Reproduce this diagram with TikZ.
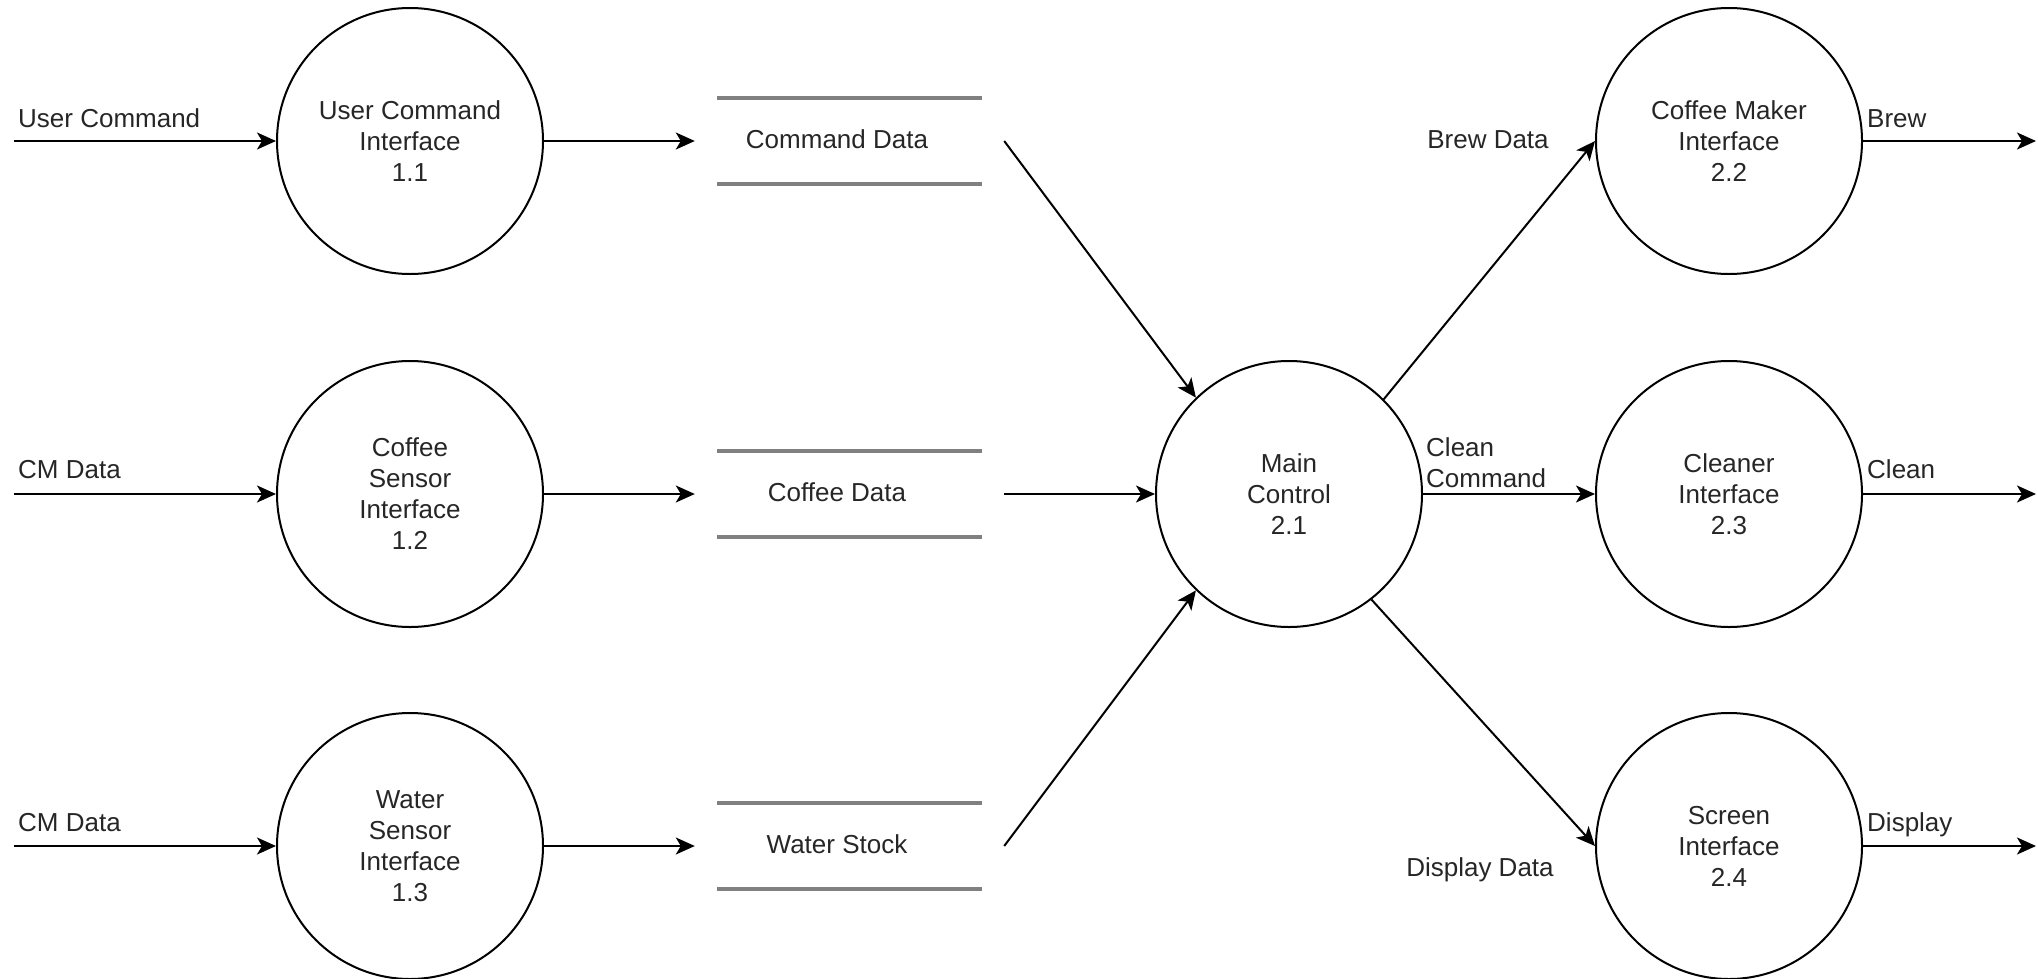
\documentclass[tikz,border=0pt]{standalone}
\usepackage{fontspec}
\setmainfont{Liberation Sans}
\usetikzlibrary{arrows.meta}
\definecolor{txt}{HTML}{262626}
\definecolor{storegray}{HTML}{808080}
\begin{document}
\begin{tikzpicture}[x=1bp,y=-1bp,
  fnt/.style={font=\fontsize{26bp}{31bp}\selectfont},
  proc/.style={circle, draw=black, line width=2bp, minimum size=266bp, inner sep=0pt, align=center, text=txt, fnt},
  lbl/.style={text=txt, fnt, inner sep=0pt, align=left},
  storebox/.style={minimum width=265bp, minimum height=86bp, inner sep=0pt},
  storeline/.style={draw=storegray, line width=3.5bp},
  flow/.style={line width=2bp, draw=black, -{Stealth[length=19bp,width=17bp,inset=5bp]}}]

\useasboundingbox (0,0) rectangle (2038,979);

% processes
\node[proc] (p11) at (410,141) {User Command\\Interface\\1.1};
\node[proc] (p12) at (410,494) {Coffee\\Sensor\\Interface\\1.2};
\node[proc] (p13) at (410,846) {Water\\Sensor\\Interface\\1.3};
\node[proc] (p21) at (1289,494) {Main\\Control\\2.1};
\node[proc] (p22) at (1729,141) {Coffee Maker\\Interface\\2.2};
\node[proc] (p23) at (1729,494) {Cleaner\\Interface\\2.3};
\node[proc] (p24) at (1729,846) {Screen\\Interface\\2.4};

% data stores
\node[storebox] (s1) at (849.5,141) {};
\node[storebox] (s2) at (849.5,494) {};
\node[storebox] (s3) at (849.5,846) {};
\foreach \s in {s1,s2,s3}{
  \draw[storeline] (\s.north west) -- (\s.north east);
  \draw[storeline] (\s.south west) -- (\s.south east);
}
\node[lbl, anchor=base] (t1) at (837,148) {Command Data};
\node[lbl, anchor=base] (t2) at (837,501) {Coffee Data};
\node[lbl, anchor=base] (t3) at (837,853) {Water Stock};

% free ends
\coordinate (in1) at (14,141);
\coordinate (in2) at (14,494);
\coordinate (in3) at (14,846);
\coordinate (out1) at (2036,141);
\coordinate (out2) at (2036,494);
\coordinate (out3) at (2036,846);

% input flows
\draw[flow] (in1) -- (p11.west);
\draw[flow] (in2) -- (p12.west);
\draw[flow] (in3) -- (p13.west);

% to stores
\draw[flow] (p11.east) -- ([xshift=-22bp]s1.west);
\draw[flow] (p12.east) -- ([xshift=-22bp]s2.west);
\draw[flow] (p13.east) -- ([xshift=-22bp]s3.west);

% stores to main
\draw[flow] ([xshift=22bp]s1.east) -- (p21.134);
\draw[flow] ([xshift=22bp]s2.east) -- (p21.west);
\draw[flow] ([xshift=22bp]s3.east) -- (p21.226);

% main to outputs
\draw[flow] (p21.45) -- (p22.west);
\draw[flow] (p21.east) -- (p23.west);
\draw[flow] (p21.-52) -- (p24.west);

% outputs
\draw[flow] (p22.east) -- (out1);
\draw[flow] (p23.east) -- (out2);
\draw[flow] (p24.east) -- (out3);

% labels
\node[lbl, anchor=base west] (l1) at (18,127) {User Command};
\node[lbl, anchor=base west] (l2) at (18,478) {CM Data};
\node[lbl, anchor=base west] (l3) at (18,831) {CM Data};
\node[lbl, anchor=base] (l4) at (1488,148) {Brew Data};
\node[lbl, anchor=base west] (l5) at (1426,487) {Clean\\Command};
\node[lbl, anchor=base] (l6) at (1480,876) {Display Data};
\node[lbl, anchor=base west] (l7) at (1867,127) {Brew};
\node[lbl, anchor=base west] (l8) at (1867,478) {Clean};
\node[lbl, anchor=base west] (l9) at (1867,831) {Display};
\end{tikzpicture}
\end{document}
